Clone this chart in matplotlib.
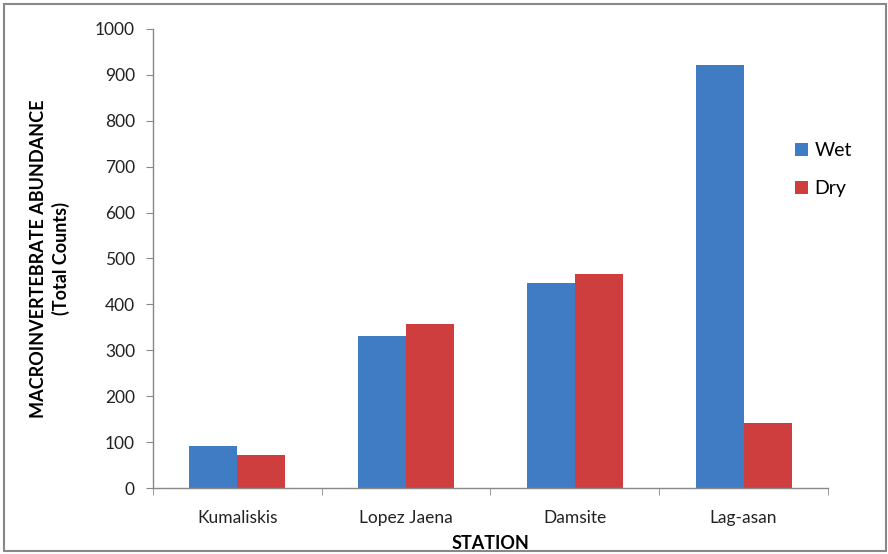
import matplotlib.pyplot as plt
import numpy as np
from matplotlib.patches import Rectangle

# Data
stations = ['Kumaliskis', 'Lopez Jaena', 'Damsite', 'Lag-asan']
wet = [91, 331, 447, 921]
dry = [73, 357, 467, 142]
yticks = [0, 100, 200, 300, 400, 500, 600, 700, 800, 900, 1000]

plt.rcParams['font.family'] = ['Lato', 'DejaVu Sans']

fig = plt.figure(figsize=(8.88, 5.54), dpi=100)
ax = fig.add_axes([0.1723, 0.1191, 0.7601, 0.8286])

# outer chart border
fig.patches.append(Rectangle((0.005, 0.006), 0.993, 0.987, transform=fig.transFigure,
                             fill=False, edgecolor='#888888', linewidth=1.5))

x = np.arange(len(stations))
width = 0.285
ax.bar(x - width / 2, wet, width, color='#3F7CC4', label='Wet')
ax.bar(x + width / 2, dry, width, color='#CF3E3E', label='Dry')

ax.set_xlim(-0.5, len(stations) - 0.5)
ax.set_ylim(0, 1000)
ax.set_yticks(yticks)
ax.set_yticklabels([str(v) for v in yticks], fontsize=12.5, color='#222222')

# category ticks sit at the boundaries between groups
ax.set_xticks(x)
ax.set_xticklabels(stations, fontsize=12.5, color='#222222')
ax.set_xticks(np.arange(len(stations) + 1) - 0.5, minor=True)
ax.tick_params(axis='x', which='major', length=0, pad=16)
ax.tick_params(axis='x', which='minor', length=5, color='#888888')
ax.tick_params(axis='y', length=5, color='#888888', pad=8)

for side in ['top', 'right']:
    ax.spines[side].set_visible(False)
for side in ['left', 'bottom']:
    ax.spines[side].set_color('#888888')
    ax.spines[side].set_linewidth(1.0)

ax.set_xlabel('STATION', fontsize=13, fontweight='bold', labelpad=6)
ax.set_ylabel('MACROINVERTEBRATE ABUNDANCE\n(Total Counts)', fontsize=13,
              fontweight='bold', labelpad=18, linespacing=1.35)

ax.legend(loc='upper left', bbox_to_anchor=(0.951, 0.754), frameon=False,
          fontsize=14, handlelength=0.65, handleheight=0.65, handletextpad=0.35,
          labelspacing=1.1, borderaxespad=0, borderpad=0)

plt.savefig('out.png', dpi=100)
